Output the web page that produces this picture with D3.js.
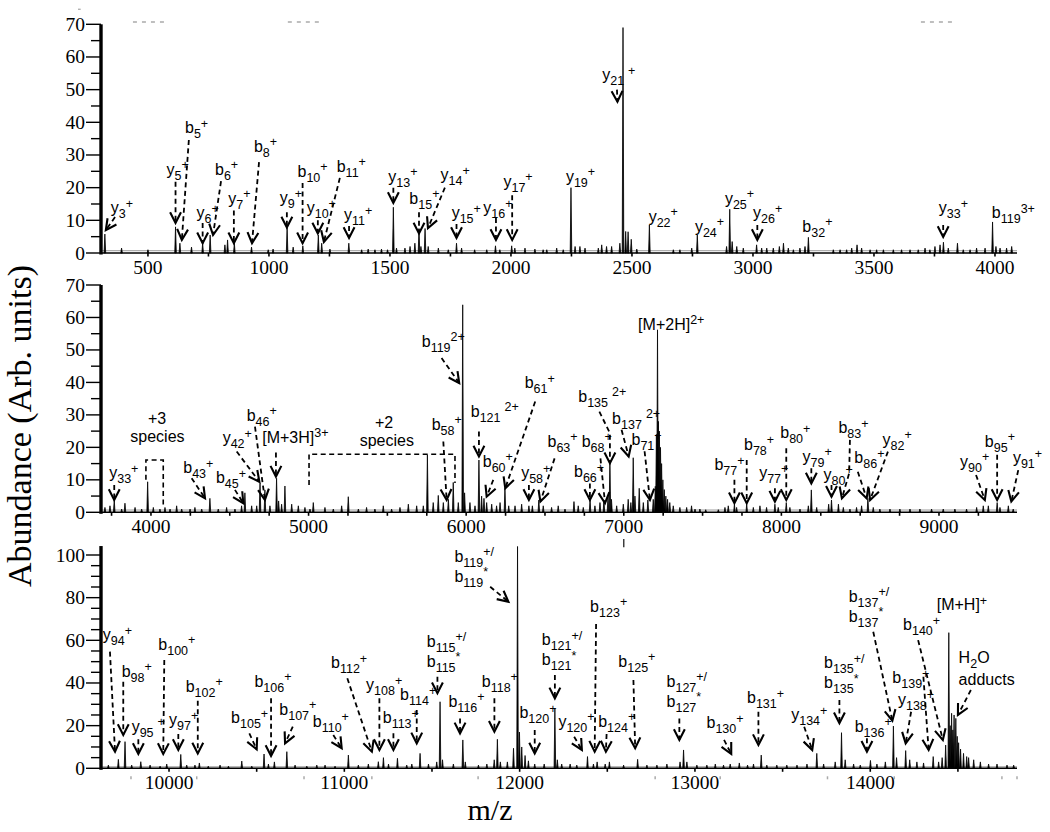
<!DOCTYPE html>
<html><head><meta charset="utf-8">
<script src="https://cdn.jsdelivr.net/npm/d3@7"></script>
<style>
html,body{margin:0;padding:0;background:#fff;}
svg{display:block;}
.serif{font-family:'Liberation Serif','Times New Roman',Times,serif;fill:#000;}
.ann{font-family:'Liberation Sans',Arial,Helvetica,sans-serif;fill:#000;}
</style></head>
<body>
<svg id="chart" width="1050" height="832"></svg>
<script>
// ---------------- DATA ----------------
// peaks: [m/z, abundance]
const topPeaks = [[322,5.8],[391,1.5],[500,1.0],[614,8.0],[632,3.0],[680,1.8],[726,3.0],[757,5.5],[818,2.5],[829,4.0],[857,3.0],[928,1.8],[997,1.0],[1017,1.2],[1075,7.8],[1100,1.8],[1140,2.2],[1204,5.5],[1218,3.0],[1252,1.2],[1330,3.0],[1383,1.0],[1410,1.2],[1438,1.0],[1465,1.2],[1490,1.0],[1514,14.0],[1527,1.5],[1562,1.5],[1583,2.0],[1603,3.0],[1620,7.5],[1628,2.0],[1645,7.5],[1658,2.0],[1700,1.5],[1741,1.0],[1775,3.0],[1796,1.5],[1850,1.0],[1900,1.0],[1936,2.2],[1954,1.0],[2003,2.2],[2016,1.5],[2058,1.5],[2099,1.2],[2133,1.0],[2148,1.0],[2189,1.5],[2216,1.0],[2248,20.0],[2265,2.0],[2285,2.0],[2306,1.5],[2361,1.5],[2375,2.5],[2395,2.0],[2416,2.0],[2450,3.0],[2463,69.0],[2474,6.6],[2484,6.5],[2497,4.2],[2520,1.2],[2572,8.6],[2671,1.0],[2698,1.0],[2747,1.5],[2770,5.5],[2891,2.0],[2904,13.4],[2914,3.5],[2933,2.0],[2960,1.5],[3015,2.5],[3036,1.5],[3057,1.5],[3084,1.5],[3109,2.0],[3126,3.0],[3146,1.5],[3167,1.0],[3194,1.5],[3215,2.0],[3229,4.8],[3332,1.0],[3360,1.0],[3387,1.0],[3408,1.5],[3430,2.5],[3449,1.5],[3484,1.0],[3511,1.0],[3539,1.0],[3580,1.0],[3614,1.0],[3649,1.0],[3683,1.0],[3711,1.5],[3731,1.0],[3752,2.0],[3773,2.5],[3787,3.3],[3807,1.5],[3845,3.0],[3869,1.0],[3897,1.0],[3924,1.5],[3959,1.5],[3990,9.5],[4004,2.0],[4021,1.5],[4048,1.5],[4069,2.0]];

const midPeaks = [[3708,1.5],[3740,2.0],[3767,3.8],[3814,1.0],[3835,2.8],[3899,1.5],[3941,1.0],[3979,9.4],[4015,1.5],[4057,1.0],[4089,1.5],[4121,1.0],[4163,2.0],[4195,1.0],[4248,1.0],[4279,1.5],[4322,1.0],[4374,4.3],[4427,1.0],[4480,1.5],[4533,1.0],[4575,2.0],[4596,6.0],[4639,2.0],[4671,2.0],[4692,9.0],[4723,6.9],[4755,2.0],[4797,10.5],[4810,3.5],[4829,2.5],[4850,8.1],[4893,2.5],[4935,2.0],[4977,1.5],[5009,1.0],[5030,3.0],[5104,1.5],[5157,1.0],[5210,2.0],[5252,4.8],[5316,1.0],[5368,1.5],[5421,1.0],[5474,2.0],[5527,1.0],[5580,1.5],[5633,2.5],[5686,2.0],[5728,2.0],[5754,17.7],[5791,3.0],[5823,5.2],[5855,3.0],[5887,4.0],[5918,9.2],[5950,3.0],[5978,63.9],[5990,6.0],[6024,3.0],[6056,2.0],[6081,16.1],[6098,5.0],[6113,4.3],[6130,3.0],[6162,2.5],[6193,2.0],[6215,3.0],[6246,7.4],[6270,2.0],[6310,2.0],[6352,2.5],[6398,2.0],[6420,2.0],[6461,3.8],[6489,2.0],[6542,1.5],[6584,2.0],[6627,1.0],[6684,3.3],[6711,2.0],[6743,1.5],[6786,3.8],[6817,2.0],[6849,3.0],[6874,3.8],[6900,5.0],[6912,16.1],[6922,4.0],[6955,2.0],[6997,2.5],[7028,4.0],[7045,3.0],[7060,16.8],[7071,5.0],[7098,7.4],[7124,3.0],[7153,3.8],[7187,4.0],[7200,8.0],[7207,24.0],[7214,56.2],[7220,28.0],[7226,25.0],[7233,20.0],[7240,15.0],[7248,10.0],[7257,7.0],[7267,5.0],[7278,4.0],[7292,3.0],[7314,2.0],[7356,1.5],[7399,1.5],[7430,2.0],[7452,1.0],[7483,1.0],[7520,0.8],[7600,0.8],[7642,1.5],[7663,2.0],[7702,2.5],[7716,1.5],[7780,2.5],[7822,1.5],[7864,2.0],[7906,1.5],[7959,2.5],[7980,1.5],[8031,3.0],[8054,1.5],[8118,1.0],[8171,2.0],[8190,6.9],[8224,1.5],[8300,2.5],[8318,3.8],[8362,2.5],[8393,1.5],[8435,1.0],[8477,1.5],[8509,2.0],[8549,4.3],[8583,1.5],[8625,1.0],[8689,1.0],[8752,1.0],[8816,1.0],[8879,1.0],[8953,1.0],[9027,1.0],[9101,1.0],[9175,1.0],[9239,1.5],[9281,2.0],[9313,2.0],[9369,3.0],[9387,1.5],[9440,2.0],[9471,1.0]];

const botPeaks = [[9654,1.5],[9711,4.2],[9749,12.5],[9787,1.5],[9839,3.1],[9892,1.5],[9949,1.0],[9987,2.0],[10067,6.5],[10101,1.5],[10148,1.5],[10173,2.5],[10224,1.0],[10291,1.5],[10339,1.0],[10415,3.4],[10472,1.0],[10542,6.7],[10567,2.0],[10601,3.0],[10672,7.8],[10719,1.5],[10786,1.0],[10843,1.5],[10890,1.5],[10947,1.0],[11023,6.2],[11080,1.5],[11137,2.0],[11194,3.1],[11223,5.0],[11252,2.0],[11303,4.7],[11356,1.5],[11385,2.0],[11432,7.0],[11480,2.0],[11527,3.0],[11546,31.2],[11560,4.0],[11622,2.0],[11676,13.3],[11690,3.0],[11765,1.5],[11813,2.0],[11855,4.0],[11873,13.6],[11890,3.0],[11930,3.0],[11965,9.4],[11988,104],[11999,17.0],[12012,10.0],[12031,6.0],[12050,3.5],[12086,2.0],[12140,2.0],[12201,27.8],[12215,4.0],[12240,2.0],[12288,2.0],[12326,1.5],[12387,5.5],[12421,2.0],[12442,3.0],[12488,2.0],[12512,3.0],[12593,1.5],[12673,4.2],[12726,1.5],[12783,1.5],[12840,2.0],[12915,3.0],[12935,8.6],[12954,3.0],[13011,1.5],[13068,1.5],[13116,2.0],[13163,1.5],[13201,2.0],[13253,2.5],[13300,1.5],[13334,2.0],[13378,6.2],[13410,1.5],[13467,1.5],[13524,1.5],[13582,1.5],[13639,2.0],[13695,7.0],[13734,2.0],[13800,3.0],[13836,16.7],[13857,4.0],[13905,2.0],[13943,1.5],[14001,3.7],[14038,2.0],[14086,3.0],[14132,19.8],[14150,5.0],[14202,8.3],[14225,4.0],[14266,3.0],[14304,2.5],[14359,5.5],[14390,3.0],[14410,5.0],[14430,10.9],[14448,63.6],[14456,20.0],[14464,25.8],[14471,18.0],[14478,25.0],[14488,23.4],[14496,15.0],[14504,12.0],[14515,9.0],[14532,7.0],[14550,5.5],[14561,5.0],[14590,4.0],[14628,3.0],[14675,2.0],[14723,2.0],[14780,1.5],[14818,1.5]];

// tick values
const topXTicks = [500,1000,1500,2000,2500,3000,3500,4000];
const midXTicks = [4000,5000,6000,7000,8000,9000];
const botXTicks = [10000,11000,12000,13000,14000];
const topYTicks = [0,10,20,30,40,50,60,70];
const midYTicks = [0,10,20,30,40,50,60,70];
const botYTicks = [0,20,40,60,80,100];

// annotations: label markup, label anchor [m/z, abundance], arrow path [m/z, ab, ...]
const topAnn = [
 ["y_{3}^{+}",346,12.2,[364,11,326,7]],
 ["y_{5}^{+}",577,23.9,[614,21.8,614,9.2]],
 ["b_{5}^{+}",653,36.7,[669,34.6,640,4]],
 ["y_{6}^{+}",701,10.6,[726,9.2,726,3]],
 ["b_{6}^{+}",777,23.9,[802,22,769,5.5]],
 ["y_{7}^{+}",832,15,[855,13,855,3]],
 ["b_{8}^{+}",938,31,[959,27.8,930,3]],
 ["y_{9}^{+}",1045,15.3,[1074,12.5,1074,7.8]],
 ["b_{10}^{+}",1118,23.3,[1139,21.4,1139,3]],
 ["y_{10}^{+}",1156,12.2,[1202,10,1202,6]],
 ["b_{11}^{+}",1280,24.9,[1293,23,1227,3.4]],
 ["y_{11}^{+}",1310,10,[1331,8.3,1331,4.6]],
 ["y_{13}^{+}",1493,21.8,[1514,20,1514,15.3]],
 ["b_{15}^{+}",1580,15,[1620,12.5,1620,6]],
 ["y_{14}^{+}",1709,22.3,[1727,20,1657,7.6]],
 ["y_{15}^{+}",1755,10.6,[1775,8.9,1775,4.6]],
 ["y_{16}^{+}",1886,12.1,[1938,10.7,1938,4]],
 ["y_{17}^{+}",1969,20.3,[2005,17.7,2005,4]],
 ["y_{19}^{+}",2227,21.8,null],
 ["y_{21}^{ +}",2377,52.9,[2438,50,2440,46.3]],
 ["y_{22}^{+}",2569,9.6,null],
 ["y_{24}^{+}",2760,6.5,null],
 ["y_{25}^{+}",2884,15,null],
 ["y_{26}^{+}",3000,10.6,[3018,8.6,3018,4]],
 ["b_{32}^{+}",3204,6.5,null],
 ["y_{33}^{+}",3768,12.1,[3786,8.6,3786,4.9]],
 ["b_{119}^{3+}",3987,10.6,null]
];
const midAnn = [
 ["y_{33}^{+}",3735,10.5,[3767,8.4,3767,3.8]],
 ["+3",3981,27.1,null],
 ["species",3869,21.5,null],
 ["b_{43}^{+}",4205,12,[4258,10.5,4343,4.3]],
 ["b_{45}^{+}",4412,8.9,[4533,6.9,4586,2.8]],
 ["y_{42}^{+}",4455,21.3,[4544,18.7,4688,9.4]],
 ["b_{46}^{+}",4607,28.2,[4660,26.4,4723,3.8]],
 ["[M+3H]^{3+}",4706,21.4,[4793,18.4,4793,11]],
 ["+2",5421,26.1,null],
 ["species",5324,20.4,null],
 ["b_{58}^{+}",5781,25.4,[5855,21.8,5876,3.8]],
 ["b_{119}^{2+}",5718,51,[5844,47.5,5956,39.8]],
 ["b_{121}^{ 2+}",6029,29.5,[6081,24.9,6081,17.2]],
 ["b_{60}^{+}",6105,14.1,[6172,10,6130,4.8]],
 ["b_{61}^{+}",6371,38.2,[6438,34.1,6248,7.4]],
 ["y_{58}^{+}",6349,10.5,[6398,8.4,6398,3.8]],
 ["b_{63}^{+}",6516,20.2,[6561,16.6,6471,3.3]],
 ["b_{66}^{+}",6684,10.8,[6785,8.9,6785,3.8]],
 ["b_{68}^{+}",6733,20.2,[6852,16.6,6881,2.8]],
 ["b_{135}^{ 2+}",6711,34.1,[6845,31,6912,24.4,6912,15.1]],
 ["b_{137}^{ 2+}",6926,27.2,[6986,25.4,7031,17.2]],
 ["b_{71}^{+}",7049,20.7,[7132,18.8,7166,3.8]],
 ["[M+2H]^{2+}",7091,56.2,null],
 ["b_{77}^{+}",7575,13,[7702,10,7702,2.8]],
 ["b_{78}^{+}",7763,19.2,[7780,16.1,7780,2.8]],
 ["y_{77}^{+}",7859,10.5,[7959,7.4,7959,3.3]],
 ["b_{80}^{+}",7993,22.8,[8031,19.7,8031,3.8]],
 ["y_{79}^{+}",8134,15.6,[8190,13.6,8190,8.9]],
 ["y_{80}^{+}",8268,10,[8318,8.4,8318,4.8]],
 ["b_{83}^{+}",8362,24.4,[8435,22.3,8430,12,8384,4.3]],
 ["b_{86}^{+}",8463,15.1,[8485,12.5,8541,4.3]],
 ["y_{82}^{+}",8642,20.8,[8676,18.7,8563,3.8]],
 ["y_{90}^{+}",9134,14.1,[9235,11.5,9291,3.8]],
 ["b_{95}^{+}",9291,20.2,[9369,17.7,9369,3.8]],
 ["y_{91}^{+}",9469,15.1,[9503,13,9459,3.3]]
];
const botAnn = [
 ["y_{94}^{+}",9622,60.1,[9663,54.7,9692,7.8]],
 ["b_{98}^{+}",9730,42.9,[9739,40.6,9739,15.6]],
 ["y_{95}^{ +}",9787,17.2,[9825,13.6,9825,6.7]],
 ["b_{100}^{+}",9939,55.5,[9973,50.8,9967,6.7]],
 ["y_{97}^{+}",10000,20.3,[10053,16.1,10053,8.6]],
 ["b_{102}^{+}",10095,35.9,[10164,31.7,10164,7]],
 ["b_{105}^{+}",10354,21.1,[10458,16.4,10500,8.9]],
 ["b_{106}^{+}",10487,38.3,[10582,32.8,10582,5.8]],
 ["b_{107}^{+}",10629,25,[10706,19.5,10662,11.7]],
 ["b_{110}^{+}",10820,19.5,[10937,15.6,10985,9.4]],
 ["b_{112}^{+}",10924,46.9,[11017,42.2,11157,7.8]],
 ["y_{108}^{+}",11124,36.7,[11200,32.8,11200,8.6]],
 ["b_{113}^{+}",11219,21.1,[11280,16.4,11280,8.6]],
 ["b_{114}^{+}",11318,32,[11413,27.3,11413,11.7]],
 ["b_{115}^{+/}",11470,57,null],
 ["b_{115}^{*}",11470,47.6,[11531,42.9,11531,35.2]],
 ["b_{116}^{+}",11594,28.9,[11660,23.4,11660,16.4]],
 ["b_{118}^{+}",11784,38.3,[11856,32.8,11856,17.2]],
 ["b_{119}^{+/}",11628,96.9,null],
 ["b_{119}^{*}",11628,87.5,[11832,85.1,11936,78.1]],
 ["b_{120}^{+}",11999,23.4,[12086,18,12086,7]],
 ["b_{121}^{+/}",12126,57.8,null],
 ["b_{121}^{*}",12126,48.4,[12201,43.7,12201,32.8]],
 ["y_{120}^{+}",12221,19.5,[12311,14.8,12355,8.6]],
 ["b_{123}^{+}",12402,73.4,[12436,67.6,12428,7.8]],
 ["b_{124}^{+}",12448,19.5,[12496,16.1,12492,7.8]],
 ["b_{125}^{+}",12563,47.6,[12649,41.4,12659,9.4]],
 ["b_{127}^{+/}",12838,38.3,null],
 ["b_{127}^{*}",12838,28.9,[12911,23.4,12911,13.3]],
 ["b_{130}^{+}",13066,18.8,[13166,13.3,13207,6.7]],
 ["b_{131}^{+}",13297,30.5,[13362,26.5,13362,10.9]],
 ["y_{134}^{+}",13549,22.6,[13623,19.5,13669,8.6]],
 ["b_{135}^{+/}",13736,46.9,null],
 ["b_{135}^{*}",13736,37.5,[13824,32,13824,21.1]],
 ["b_{136}^{+}",13911,17.2,[13981,14.1,13981,7.8]],
 ["b_{137}^{+/}",13877,78.1,null],
 ["b_{137}^{*}",13877,68.7,[14017,64,14126,22.3]],
 ["b_{140}^{+}",14187,64.8,[14273,60.1,14414,13.3]],
 ["b_{139}^{+}",14126,39.8,[14303,42.9,14333,8.6]],
 ["y_{138}^{+}",14158,29.7,[14233,26.5,14202,11.7]],
 ["[M+H]^{+}",14379,74.2,null],
 ["H_{2}O",14504,49.2,null],
 ["adducts",14504,39,[14574,36.7,14500,25]]
];
// dashed brackets marking charge-state regions (middle panel)
const midBoxes = [
 [3968,10,3968,16.1,4078,16.1,4078,2.3],
 [5003,8.4,5003,17.9,5929,17.9,5929,9]
];
// faint stray marks of the scanned figure: [m/z1, ab1, m/z2, ab2]
const topStray = [[211,74.6,222,74.6],[438,70.7,570,70.7],[1078,70.7,1219,70.7],[3694,70.7,3835,70.7]];
const midStray = [[7000,-8.2,7000,-10.8]];
const botStray = [9783,10158,10770,11157,11763,12127,12773,13144,13756,14137,14751,14837];

// ---------------- DRAW ----------------
const svg = d3.select("#chart");
svg.append("rect").attr("width",1050).attr("height",832).attr("fill","#fff");

const panels = [
 {peaks:topPeaks, ann:topAnn, boxes:[], xd:[306,4091], yd:[0,70], yr:[253,24.3], yTop:70,
  xt:topXTicks, xMinorStep:250, yt:topYTicks, yMinorStep:5, stray:topStray, dots:[]},
 {peaks:midPeaks, ann:midAnn, boxes:midBoxes, xd:[3683,9495], yd:[0,70], yr:[512.3,285], yTop:70,
  xt:midXTicks, xMinorStep:250, yt:midYTicks, yMinorStep:5, stray:midStray, dots:[]},
 {peaks:botPeaks, ann:botAnn, boxes:[], xd:[9612,14837], yd:[0,100], yr:[768.3,555], yTop:104.2,
  xt:botXTicks, xMinorStep:500, yt:botYTicks, yMinorStep:5, stray:[], dots:botStray}
];
const X0 = 101, X1 = 1017;

function parseMarkup(s){
  const re = /(_\{[^}]*\}|\^\{[^}]*\}|[^_^]+)/g; const out=[]; let m;
  while((m=re.exec(s))){ const t=m[0];
    if(t[0]==='_') out.push({k:'sub',t:t.slice(2,-1)});
    else if(t[0]==='^') out.push({k:'sup',t:t.slice(2,-1)});
    else out.push({k:'n',t:t}); }
  return out;
}
function drawLabel(g, s, x, y){
  const t = g.append("text").attr("class","ann").attr("x",x).attr("y",y);
  let cur = 0;
  parseMarkup(s).forEach(seg=>{
    const off = seg.k==='sub'?5:seg.k==='sup'?-5.5:0;
    const size = seg.k==='n'?16:12.5;
    let txt = seg.t, dx=0;
    if(txt.startsWith(' ')){dx=4; txt=txt.trim();}
    t.append("tspan").attr("dy",off-cur).attr("dx",dx).style("font-size",size+"px").text(txt);
    cur = off;
  });
}
function drawArrow(g, arr, sx, sy){
  const P=[]; for(let i=0;i<arr.length;i+=2) P.push([sx(arr[i]), sy(arr[i+1])]);
  g.append("path").attr("d", d3.line()(P)).attr("fill","none").attr("stroke","#000")
   .attr("stroke-width",1.8).attr("stroke-dasharray","5,3.5");
  const [x1,y1]=P[P.length-2], [x2,y2]=P[P.length-1];
  const a=Math.atan2(y2-y1,x2-x1), L=12, h=0.47;
  const arm=s=>[x2-L*Math.cos(a+s), y2-L*Math.sin(a+s)];
  g.append("path").attr("d", d3.line()([arm(h),[x2,y2],arm(-h)])).attr("fill","none")
   .attr("stroke","#000").attr("stroke-width",2.1).attr("stroke-linejoin","miter");
}

panels.forEach(p=>{
  const sx = d3.scaleLinear().domain(p.xd).range([X0,X1]);
  const sy = d3.scaleLinear().domain(p.yd).range(p.yr);
  const g = svg.append("g");
  const y0 = sy(0);
  // stray marks
  p.stray.forEach(s=>{
    g.append("line").attr("x1",sx(s[0])).attr("x2",sx(s[2])).attr("y1",sy(s[1])).attr("y2",sy(s[3]))
     .attr("stroke",s[0]===s[2]?"#222":"#aaa").attr("stroke-width",1.3).attr("stroke-dasharray",s[0]===s[2]?null:"4,5");
  });
  g.selectAll(null).data(p.dots).join("line").attr("x1",d=>sx(d)).attr("x2",d=>sx(d))
   .attr("y1",sy(0)+8).attr("y2",sy(0)+11).attr("stroke","#aaa").attr("stroke-width",1.5);
  // spectrum baseline
  g.append("line").attr("x1",X0).attr("x2",X1).attr("y1",sy(0.7)).attr("y2",sy(0.7))
   .attr("stroke","#9a9a9a").attr("stroke-width",1);
  // peaks
  const w = 0.8;
  const d = p.peaks.map(([m,v])=>{const x=sx(m);return `M${x-w},${y0}L${x},${sy(v)}L${x+w},${y0}Z`;}).join("");
  g.append("path").attr("d",d).attr("fill","#000").attr("stroke","#000").attr("stroke-width",0.8);
  // x axis
  g.append("line").attr("x1",X0).attr("x2",X1).attr("y1",y0).attr("y2",y0).attr("stroke","#000").attr("stroke-width",1.6);
  const minor = d3.range(Math.ceil(p.xd[0]/p.xMinorStep)*p.xMinorStep, p.xd[1], p.xMinorStep);
  g.selectAll(null).data(minor).join("line").attr("x1",d=>sx(d)).attr("x2",d=>sx(d))
   .attr("y1",y0).attr("y2",y0+3.5).attr("stroke","#000").attr("stroke-width",1.6);
  g.selectAll(null).data(p.xt).join("text").attr("class","serif").attr("x",d=>sx(d)).attr("y",y0+20.5)
   .attr("text-anchor","middle").style("font-size","19.5px").text(d=>d);
  // y axis
  g.append("line").attr("x1",X0).attr("x2",X0).attr("y1",sy(p.yTop)).attr("y2",y0+1.5)
   .attr("stroke","#000").attr("stroke-width",3.4);
  const yMinor = d3.range(0, p.yd[1]+0.01, p.yMinorStep).filter(v=>!p.yt.includes(v));
  g.selectAll(null).data(yMinor).join("line").attr("x1",X0-10).attr("x2",X0)
   .attr("y1",d=>sy(d)).attr("y2",d=>sy(d)).attr("stroke","#000").attr("stroke-width",1.4);
  g.selectAll(null).data(p.yt).join("line").attr("x1",X0-15).attr("x2",X0)
   .attr("y1",d=>sy(d)).attr("y2",d=>sy(d)).attr("stroke","#000").attr("stroke-width",1.4);
  g.selectAll(null).data(p.yt).join("text").attr("class","serif").attr("x",X0-16).attr("y",d=>sy(d)+6.5)
   .attr("text-anchor","end").style("font-size","19.5px").text(d=>d);
  // boxes
  p.boxes.forEach(b=>{
    const P=[]; for(let i=0;i<b.length;i+=2) P.push([sx(b[i]),sy(b[i+1])]);
    g.append("path").attr("d",d3.line()(P)).attr("fill","none").attr("stroke","#000")
     .attr("stroke-width",1.6).attr("stroke-dasharray","5,3.5");
  });
  // annotations
  p.ann.forEach(([s,m,v,arr])=>{
    drawLabel(g, s, sx(m), sy(v));
    if(arr) drawArrow(g, arr, sx, sy);
  });
});

// axis titles
svg.append("text").attr("class","serif").attr("transform","translate(31,426) rotate(-90)").attr("text-anchor","middle")
 .style("font-size","34px").text("Abundance (Arb. units)");
svg.append("text").attr("class","serif").attr("x",490).attr("y",820).attr("text-anchor","middle")
 .style("font-size","30px").text("m/z");
</script>
</body></html>
